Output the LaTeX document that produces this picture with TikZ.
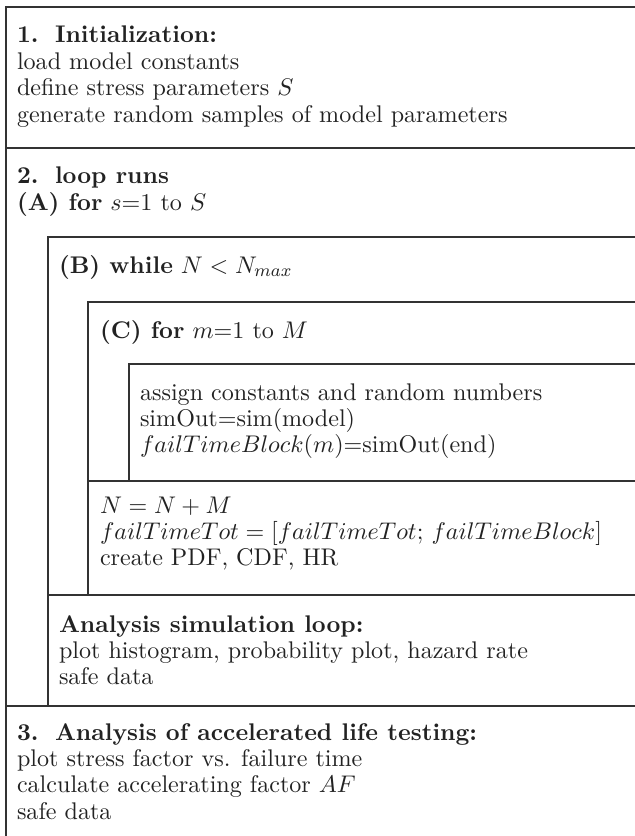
\documentclass[tikz,border=0pt]{standalone}
\usepackage{tikz}
\definecolor{linec}{HTML}{333333}
\definecolor{textc}{HTML}{222222}
\tikzset{
  frame/.style={draw=linec, line width=0.9pt, line cap=rect},
  txt/.style={anchor=base west, inner sep=0pt, outer sep=0pt, text=textc, font=\fontsize{10.95}{12}\selectfont},
}
\newcommand{\numgap}{\hskip 7.5pt}
\begin{document}
\begin{tikzpicture}[x=0.4545pt, y=-0.4545pt]
\useasboundingbox (0,0) rectangle (634,836);
% frame lines
\draw[frame] (634,7) -- (6,7) -- (6,836);
\draw[frame] (6,148) -- (634,148);
\draw[frame] (6,706) -- (634,706);
\draw[frame] (634,237) -- (48,237) -- (48,706);
\draw[frame] (634,302) -- (88,302) -- (88,595);
\draw[frame] (48,595) -- (634,595);
\draw[frame] (634,364) -- (129,364) -- (129,481);
\draw[frame] (88,481) -- (634,481);
% block 1
\node[txt] (t1a) at (17,43) {\textbf{1.\numgap Initialization:}};
\node[txt] (t1b) at (17,69.4) {load model constants};
\node[txt] (t1c) at (17,95.8) {define stress parameters $S$};
\node[txt] (t1d) at (17,122.2) {generate random samples of model parameters};
% block 2
\node[txt] (t2a) at (17,184) {\textbf{2.\numgap loop runs}};
\node[txt] (t2b) at (17,210.4) {\textbf{(A) for} $s$=1 to $S$};
\node[txt] (tB) at (59,273) {\textbf{(B) while} $N<N_{max}$};
\node[txt] (tC) at (100,338) {\textbf{(C) for} $m$=1 to $M$};
\node[txt] (tDa) at (140,400) {assign constants and random numbers};
\node[txt] (tDb) at (140,426.4) {simOut=sim(model)};
\node[txt] (tDc) at (140,452.8) {$failTimeBlock(m)$=simOut(end)};
\node[txt] (tEa) at (100,513) {$N=N+M$};
\node[txt] (tEb) at (100,539.4) {$failTimeTot=[failTimeTot;\,failTimeBlock]$};
\node[txt] (tEc) at (100,565.8) {create PDF, CDF, HR};
\node[txt] (tFa) at (59,632) {\textbf{Analysis simulation loop:}};
\node[txt] (tFb) at (59,658.4) {plot histogram, probability plot, hazard rate};
\node[txt] (tFc) at (59,684.8) {safe data};
% block 3
\node[txt] (t3a) at (17,740) {\textbf{3.\numgap Analysis of accelerated life testing:}};
\node[txt] (t3b) at (17,766.4) {plot stress factor vs. failure time};
\node[txt] (t3c) at (17,792.8) {calculate accelerating factor $AF$};
\node[txt] (t3d) at (17,819.2) {safe data};
\end{tikzpicture}
\end{document}
